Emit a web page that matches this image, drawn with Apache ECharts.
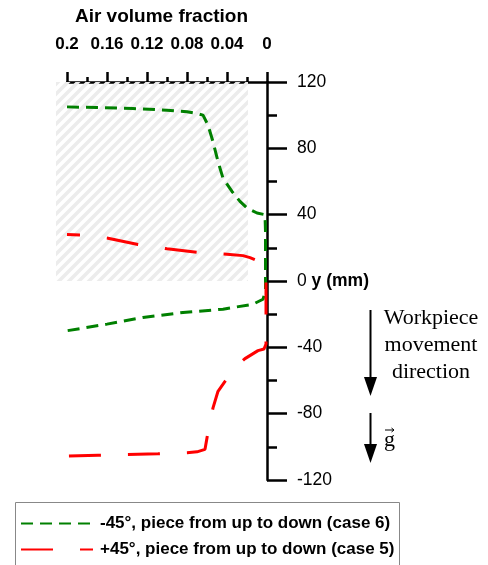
<!DOCTYPE html>
<html>
<head>
<meta charset="utf-8">
<script src="https://cdn.jsdelivr.net/npm/echarts@6/dist/echarts.min.js"></script>
<style>
html,body{margin:0;padding:0;background:#fff;}
#chart{width:488px;height:565px;}
</style>
</head>
<body>
<div id="chart"></div>
<script>
// ---- data ----
var xTicks = [0.2, 0.16, 0.12, 0.08, 0.04, 0];
var yTicks = [120, 80, 40, 0, -40, -80, -120];
var seriesNames = ['-45°, piece from up to down (case 6)', '+45°, piece from up to down (case 5)'];
// [air volume fraction, y (mm)]
var case6 = [[0.2,105],[0.17,104.6],[0.134,104],[0.10,103],[0.08,102],[0.07,101],[0.064,100],[0.059,94],[0.054,84],[0.049,72],[0.044,62],[0.035,54],[0.027,48],[0.020,44],[0.010,41],[0.002,40],[0.0015,30],[0.0015,0],[0.0015,-6],[0.004,-11],[0.014,-14],[0.044,-17],[0.084,-19],[0.124,-22],[0.160,-26],[0.2,-30]];
var case5 = [[0.2,28],[0.187,27.8],[0.159,25.8],[0.129,22],[0.1,19.4],[0.07,17.3],[0.04,16.1],[0.024,15.3],[0.017,14.1],[0.01,12.3],[0.004,8],[0.001,2],[0.001,-20],[0.001,-38],[0.003,-41],[0.009,-42],[0.022,-46.8],[0.035,-54],[0.042,-60.5],[0.049,-66.5],[0.054,-76.5],[0.058,-88],[0.060,-94.6],[0.062,-101.5],[0.070,-103],[0.080,-103.6],[0.109,-104.2],[0.140,-104.6],[0.169,-105.1],[0.2,-105.6]];
// hatched region: [x from, x to, y from, y to]
var hatchRegion = [[0.211, 0.019, 0, 120]];

// ---- hatch pattern ----
var pc = document.createElement('canvas');
pc.width = 10; pc.height = 10;
var g = pc.getContext('2d');
g.strokeStyle = '#ececec';
g.lineWidth = 3.5;
g.beginPath();
g.moveTo(-5, 5); g.lineTo(5, -5);
g.moveTo(0, 10); g.lineTo(10, 0);
g.moveTo(5, 15); g.lineTo(15, 5);
g.stroke();

var chart = echarts.init(document.getElementById('chart'), null, {renderer: 'canvas'});
var black = '#000';
var sans = 'Arial, Liberation Sans';
var serifFont = '22px "Liberation Serif", "Times New Roman", serif';
var option = {
  animation: false,
  backgroundColor: '#fff',
  grid: {left: 67, right: 221, top: 82, bottom: 85, containLabel: false},
  xAxis: {
    type: 'value', position: 'top', inverse: true,
    min: 0, max: 0.2, interval: 0.04,
    name: 'Air volume fraction', nameLocation: 'middle', nameGap: 56,
    nameTextStyle: {fontFamily: sans, fontWeight: 'bold', fontSize: 19, color: black, padding: [0, 11, 0, 0]},
    axisLine: {onZero: false, lineStyle: {color: black, width: 2.5}},
    axisTick: {length: 10, lineStyle: {color: black, width: 2.5}},
    minorTick: {show: true, splitNumber: 2, length: 5, lineStyle: {color: black, width: 2.5}},
    splitLine: {show: false}, minorSplitLine: {show: false},
    axisLabel: {margin: 29, fontFamily: sans, fontWeight: 'bold', fontSize: 17, color: black,
      formatter: function (v) { return String(+v.toFixed(2)); }}
  },
  yAxis: {
    type: 'value', position: 'right',
    min: -120, max: 120, interval: 40,
    axisLine: {onZero: false, lineStyle: {color: black, width: 2.5}},
    axisTick: {length: 20, lineStyle: {color: black, width: 2.5}},
    minorTick: {show: true, splitNumber: 2, length: 10, lineStyle: {color: black, width: 2.5}},
    splitLine: {show: false}, minorSplitLine: {show: false},
    axisLabel: {margin: 30, fontFamily: sans, fontSize: 17.5, color: black,
      formatter: function (v) { return v === 0 ? '0 {b|y (mm)}' : String(v); },
      rich: {b: {fontFamily: sans, fontWeight: 'bold', fontSize: 17.5, color: black}}}
  },
  legend: {
    orient: 'vertical', left: 15, top: 510,
    itemWidth: 72, itemHeight: 14, itemGap: 9,
    data: seriesNames,
    itemStyle: {opacity: 0},
    lineStyle: {dashOffset: 0},
    textStyle: {fontFamily: sans, fontWeight: 'bold', fontSize: 17, color: black, padding: [0, 0, 0, 2]}
  },
  graphic: [
    {type: 'rect', left: 13, top: 500, z: 0, shape: {width: 384, height: 80}, style: {fill: 'none', stroke: '#888', lineWidth: 1}},
    {type: 'line', shape: {x1: 370.5, y1: 310, x2: 370.5, y2: 382}, style: {stroke: black, lineWidth: 2}},
    {type: 'polygon', shape: {points: [[364, 377], [377, 377], [370.5, 396]]}, style: {fill: black}},
    {type: 'line', shape: {x1: 370.5, y1: 413, x2: 370.5, y2: 448}, style: {stroke: black, lineWidth: 2}},
    {type: 'polygon', shape: {points: [[364, 444], [377, 444], [370.5, 463]]}, style: {fill: black}},
    {type: 'text', x: 431, y: 318, style: {text: 'Workpiece', align: 'center', verticalAlign: 'middle', font: serifFont, fill: black}},
    {type: 'text', x: 431, y: 345, style: {text: 'movement', align: 'center', verticalAlign: 'middle', font: serifFont, fill: black}},
    {type: 'text', x: 431, y: 372, style: {text: 'direction', align: 'center', verticalAlign: 'middle', font: serifFont, fill: black}},
    {type: 'text', x: 384, y: 440, style: {text: 'g', align: 'left', verticalAlign: 'middle', font: serifFont, fill: black}},
    {type: 'line', shape: {x1: 385, y1: 430, x2: 394, y2: 430}, style: {stroke: black, lineWidth: 1}},
    {type: 'polyline', shape: {points: [[391.5, 428], [394, 430], [391.5, 432]]}, style: {stroke: black, lineWidth: 1, fill: 'none'}}
  ],
  series: [
    {
      type: 'custom', name: 'hatch', silent: true, z: 1,
      encode: {x: [0, 1], y: [2, 3]},
      data: hatchRegion,
      renderItem: function (params, api) {
        var p1 = api.coord([api.value(0), api.value(3)]);
        var p2 = api.coord([api.value(1), api.value(2)]);
        return {type: 'rect', shape: {x: p1[0], y: p1[1], width: p2[0] - p1[0], height: p2[1] - p1[1]},
          style: {fill: {image: pc, repeat: 'repeat'}, stroke: null}};
      }
    },
    {
      type: 'line', name: seriesNames[0], data: case6, symbol: 'none', showSymbol: false, z: 3, clip: false,
      lineStyle: {color: '#008000', width: 3, type: [12, 7]}, itemStyle: {color: '#008000'}
    },
    {
      type: 'line', name: seriesNames[1], data: case5, symbol: 'none', showSymbol: false, z: 4, clip: false,
      lineStyle: {color: '#ff0000', width: 3, type: [32, 27], dashOffset: 19}, itemStyle: {color: '#ff0000'}
    }
  ]
};
chart.setOption(option);
</script>
</body>
</html>
